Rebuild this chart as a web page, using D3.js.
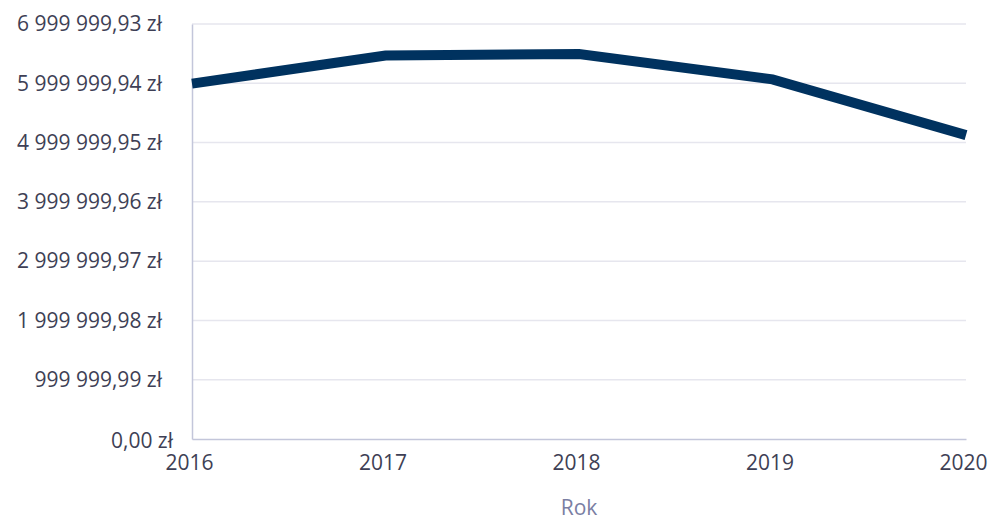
<!DOCTYPE html>
<html>
<head>
<meta charset="utf-8">
<script src="https://cdn.jsdelivr.net/npm/d3@7"></script>
<style>
  html, body { margin: 0; padding: 0; background: #fff; }
  svg { display: block; }
  svg text { font-family: "Open Sans", "Noto Sans", sans-serif; }
</style>
</head>
<body>
<svg id="chart" width="989" height="522"></svg>
<script>
// Annual totals (PLN)
const years = [2016, 2017, 2018, 2019, 2020];
const values = [5995000, 6467000, 6495000, 6066000, 5126000];
const yTickValues = [0, 999999.99, 1999999.98, 2999999.97, 3999999.96, 4999999.95, 5999999.94, 6999999.93];
const xTitle = "Rok";

const W = 989, H = 522;
const margin = { top: 24, right: 23, bottom: 83, left: 192 };
const innerW = W - margin.left - margin.right;
const innerH = H - margin.top - margin.bottom;

const pl = d3.formatLocale({ decimal: ",", thousands: "\u00a0", grouping: [3], currency: ["", " zł"] });
const fmt = v => pl.format(",.2f")(v) + " zł";

const svg = d3.select("#chart");
const g = svg.append("g").attr("transform", `translate(${margin.left},${margin.top})`);

const x = d3.scalePoint().domain(years).range([0, innerW]);
const y = d3.scaleLinear().domain([0, d3.max(yTickValues)]).range([innerH, 0]);

// horizontal grid
g.append("g")
  .selectAll("line")
  .data(yTickValues.slice(1))
  .join("line")
  .attr("x1", 0).attr("x2", innerW)
  .attr("y1", d => y(d)).attr("y2", d => y(d))
  .attr("stroke", "#e6e6ee").attr("stroke-width", 1.5);

// y axis
const yAxis = g.append("g")
  .call(d3.axisLeft(y).tickValues(yTickValues).tickFormat(fmt).tickSize(0).tickPadding(30))
  .attr("font-family", null).attr("font-size", null);
yAxis.select(".domain").attr("stroke", "#c3c6da").attr("stroke-width", 1.5);
yAxis.selectAll("text")
  .attr("fill", "#3e3f55")
  .attr("font-size", 21)
  .attr("dx", (d, i) => i === 0 ? 11 : 0)
  .attr("dy", (d, i) => i === 0 ? "0.42em" : "0.32em");

// x axis
const xAxis = g.append("g")
  .attr("transform", `translate(0,${innerH})`)
  .call(d3.axisBottom(x).tickSize(0).tickPadding(16))
  .attr("font-family", null).attr("font-size", null);
xAxis.select(".domain").attr("stroke", "#c3c6da").attr("stroke-width", 1.5);
xAxis.selectAll("text")
  .attr("fill", "#3e3f55")
  .attr("font-size", 21)
  .attr("dx", -3);

// x axis title
g.append("text")
  .attr("x", innerW / 2)
  .attr("y", innerH + 76)
  .attr("text-anchor", "middle")
  .attr("fill", "#7a7ea3")
  .attr("font-size", 21)
  .text(xTitle);

// series line
const line = d3.line().x((d, i) => x(years[i])).y(d => y(d));
g.append("path")
  .datum(values)
  .attr("d", line)
  .attr("fill", "none")
  .attr("stroke", "#00325f")
  .attr("stroke-width", 10)
  .attr("stroke-linejoin", "miter");
</script>
</body>
</html>
